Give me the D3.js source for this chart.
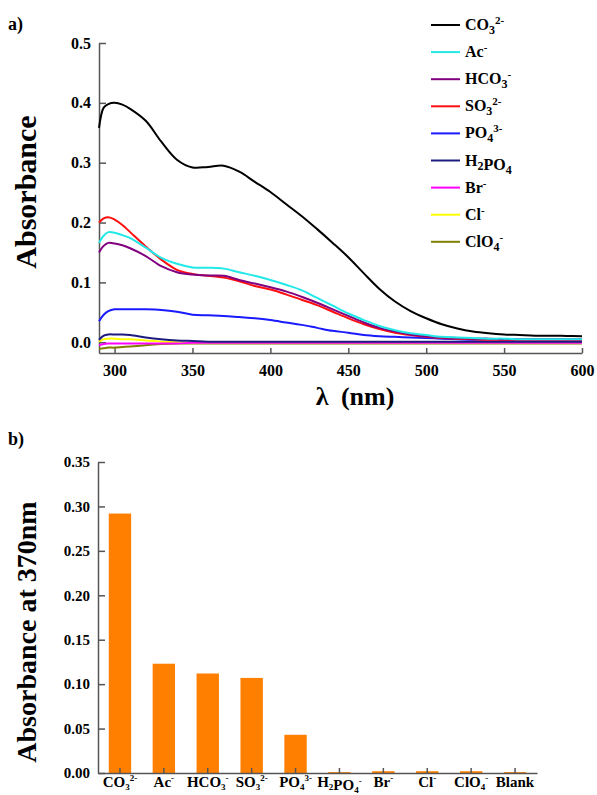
<!DOCTYPE html>
<html>
<head>
<meta charset="utf-8">
<script src="https://cdn.jsdelivr.net/npm/d3@7"></script>
<style>
  body { margin: 0; background: #fff; }
  svg text { font-family: 'Liberation Serif', 'DejaVu Serif', serif; font-weight: bold; fill: #000; }
</style>
</head>
<body>
<script>
// panel a) spectra
let wl = [290, 293, 296, 300, 305, 310, 320, 330, 340, 350, 360, 370, 380, 390, 400, 410, 420, 430, 440, 450,
  460, 470, 480, 490, 500, 510, 520, 530, 540, 550, 560, 570, 580, 590, 600]

let co3 = [0.358, 0.392, 0.398, 0.400, 0.397, 0.390, 0.370, 0.335, 0.305, 0.292, 0.293, 0.295, 0.285, 0.268, 0.251, 0.231, 0.211, 0.189, 0.166, 0.142,
  0.115, 0.089, 0.068, 0.052, 0.040, 0.030, 0.023, 0.018, 0.015, 0.013, 0.012, 0.011, 0.011, 0.0105, 0.010]
let ac = [0.166, 0.178, 0.184, 0.183, 0.179, 0.174, 0.158, 0.141, 0.131, 0.125, 0.1245, 0.123, 0.117, 0.111, 0.104, 0.096, 0.087, 0.074, 0.061, 0.048,
  0.037, 0.027, 0.020, 0.015, 0.012, 0.009, 0.008, 0.007, 0.006, 0.006, 0.005, 0.005, 0.005, 0.005, 0.005]
let hco3 = [0.150, 0.161, 0.166, 0.165, 0.162, 0.157, 0.144, 0.127, 0.117, 0.113, 0.1115, 0.111, 0.104, 0.098, 0.092, 0.085, 0.076, 0.066, 0.055, 0.044,
  0.033, 0.024, 0.018, 0.013, 0.010, 0.008, 0.007, 0.006, 0.006, 0.005, 0.005, 0.005, 0.005, 0.005, 0.005]
let so3 = [0.200, 0.207, 0.209, 0.205, 0.196, 0.184, 0.160, 0.138, 0.121, 0.114, 0.111, 0.108, 0.102, 0.094, 0.088, 0.080, 0.071, 0.062, 0.051, 0.040,
  0.030, 0.022, 0.016, 0.012, 0.009, 0.007, 0.006, 0.005, 0.004, 0.004, 0.004, 0.004, 0.004, 0.004, 0.004]
let po4 = [0.035, 0.046, 0.052, 0.055, 0.055, 0.055, 0.055, 0.054, 0.051, 0.046, 0.045, 0.044, 0.042, 0.040, 0.037, 0.033, 0.029, 0.024, 0.019, 0.016,
  0.012, 0.010, 0.009, 0.008, 0.007, 0.006, 0.005, 0.004, 0.004, 0.004, 0.004, 0.004, 0.004, 0.004, 0.004]
let h2po4 = [0.004, 0.011, 0.013, 0.013, 0.013, 0.012, 0.008, 0.005, 0.003, 0.002, 0.001, 0.001, 0.001, 0.001, 0.001, 0.001, 0.001, 0.001, 0.001, 0.001,
  0.001, 0.001, 0.001, 0.001, 0.001, 0.001, 0.001, 0.001, 0.001, 0.001, 0.001, 0.001, 0.001, 0.001, 0.001]
let br = [-0.005, -0.003, -0.002, -0.002, -0.002, -0.002, -0.002, -0.002, -0.002, -0.001, -0.001, -0.001, -0.001, -0.001, -0.001, -0.001, -0.001, -0.001, -0.001, -0.001,
  -0.001, -0.001, -0.001, -0.001, -0.001, -0.001, -0.001, -0.001, -0.001, -0.001, -0.001, -0.001, -0.001, -0.001, -0.001]
let cl = [0.001, 0.005, 0.006, 0.006, 0.005, 0.005, 0.003, 0.001, 0.000, -0.001, -0.001, -0.001, -0.001, -0.001, -0.001, -0.001, -0.001, -0.001, -0.001, -0.001,
  -0.001, -0.001, -0.001, -0.001, -0.001, -0.001, -0.001, -0.001, -0.001, -0.001, -0.001, -0.001, -0.001, -0.001, -0.001]
let clo4 = [-0.011, -0.010, -0.009, -0.009, -0.008, -0.007, -0.005, -0.003, -0.002, -0.002, -0.002, -0.002, -0.002, -0.002, -0.002, -0.002, -0.002, -0.002, -0.002, -0.002,
  -0.002, -0.002, -0.002, -0.002, -0.002, -0.002, -0.002, -0.002, -0.002, -0.002, -0.002, -0.002, -0.002, -0.002, -0.002]

// legend labels as [base, subscript, superscript, ...]
let seriesNames = [['CO', '3', '2-'], ['Ac', '', '-'], ['HCO', '3', '-'], ['SO', '3', '2-'], ['PO', '4', '3-'],
  ['H', '2', '', 'PO', '4'], ['Br', '', '-'], ['Cl', '', '-'], ['ClO', '4', '-']]
let seriesValues = [co3, ac, hco3, so3, po4, h2po4, br, cl, clo4]
let seriesColors = ['#000000', '#22e8e8', '#800080', '#ff1010', '#1a1aff', '#1c1c80', '#ff00ff', '#ffff00', '#808000']

let xTicksA = [300, 350, 400, 450, 500, 550, 600]
let yTicksA = [0.0, 0.1, 0.2, 0.3, 0.4, 0.5]

// panel b) absorbance at 370 nm
let anions = [['CO', '3', '2-'], ['Ac', '', '-'], ['HCO', '3', '-'], ['SO', '3', '2-'], ['PO', '4', '3-'],
  ['H', '2', '', 'PO', '4', '-'], ['Br', '', '-'], ['Cl', '', '-'], ['ClO', '4', '-'], ['Blank', '', '']]
let abs370 = [0.292, 0.123, 0.112, 0.107, 0.043, 0.001, 0.002, 0.002, 0.002, 0.001]
let yTicksB = [0.00, 0.05, 0.10, 0.15, 0.20, 0.25, 0.30, 0.35]

let FONT = "'Liberation Serif', 'DejaVu Serif', serif"

let svg = d3.select('body').append('svg').attr('width', 597).attr('height', 795)

// ---------- panel a ----------
let xA = d3.scaleLinear().domain([290, 600]).range([99, 582])
let yA = d3.scaleLinear().domain([-0.018, 0.5]).range([353, 43])

let axA = svg.append('g').attr('transform', 'translate(0,353)')
  .call(d3.axisBottom(xA).tickValues(xTicksA).tickSizeInner(-5).tickSizeOuter(0).tickPadding(12).tickFormat(d3.format('d')))
let ayA = svg.append('g').attr('transform', 'translate(99,0)')
  .call(d3.axisLeft(yA).tickValues(yTicksA).tickSizeInner(-7).tickSizeOuter(0).tickPadding(8).tickFormat(d3.format('.1f')))
styleAxis(axA)
styleAxis(ayA)

let line = d3.line()
  .x((d, i) => xA(wl[i]))
  .y(d => yA(d))
  .curve(d3.curveCatmullRom.alpha(0.5))

let order = d3.range(seriesValues.length).reverse()
svg.append('g').selectAll('path')
  .data(order)
  .enter()
  .append('path')
  .attr('fill', 'none')
  .attr('stroke', i => seriesColors[i])
  .attr('stroke-width', 2)
  .attr('d', i => line(seriesValues[i]))

// legend
let leg = svg.append('g')
seriesNames.forEach((parts, i) => {
  let y = 25 + i * 27.1
  leg.append('line')
    .attr('x1', 431).attr('x2', 460).attr('y1', y).attr('y2', y)
    .attr('stroke', seriesColors[i]).attr('stroke-width', 2)
  let t = leg.append('text').attr('x', 465).attr('y', y + 5)
    .style('font-family', FONT).style('font-size', '16px')
  chemLabel(t, parts, 12, 11)
})

svg.append('text').attr('x', 8).attr('y', 30).style('font-family', FONT).style('font-size', '18px').text('a)')

svg.append('text')
  .attr('transform', 'translate(36,192) rotate(-90)')
  .attr('text-anchor', 'middle')
  .style('font-family', FONT)
  .style('font-size', '30px')
  .text('Absorbance')

svg.append('text')
  .attr('x', 355).attr('y', 405)
  .attr('text-anchor', 'middle')
  .style('font-family', FONT)
  .style('font-size', '26px')
  .style('word-spacing', '6px')
  .text('λ (nm)')

// ---------- panel b ----------
let xB = d3.scaleBand().domain(d3.range(anions.length)).range([98, 537]).paddingInner(0.49).paddingOuter(0.245)
let yB = d3.scaleLinear().domain([0, 0.35]).range([773, 462])

svg.append('g').selectAll('rect')
  .data(abs370)
  .enter()
  .append('rect')
  .attr('x', (d, i) => xB(i))
  .attr('width', xB.bandwidth())
  .attr('y', d => yB(d))
  .attr('height', d => yB(0) - yB(d))
  .attr('fill', '#ff8000')

let axB = svg.append('g').attr('transform', 'translate(0,773)')
  .call(d3.axisBottom(xB).tickSizeInner(-5).tickSizeOuter(0).tickFormat(''))
let ayB = svg.append('g').attr('transform', 'translate(98,0)')
  .call(d3.axisLeft(yB).tickValues(yTicksB).tickSizeInner(-7).tickSizeOuter(0).tickPadding(8).tickFormat(d3.format('.2f')))
styleAxis(axB)
styleAxis(ayB)
ayB.selectAll('text').style('font-size', '15px')

anions.forEach((parts, i) => {
  let t = svg.append('text')
    .attr('x', xB(i) + xB.bandwidth() / 2)
    .attr('y', 787)
    .attr('text-anchor', 'middle')
    .style('font-family', FONT)
    .style('font-size', '15px')
  chemLabel(t, parts, 9, 9, 3)
})

svg.append('text').attr('x', 8).attr('y', 445).style('font-family', FONT).style('font-size', '18px').text('b)')

svg.append('text')
  .attr('transform', 'translate(36,632) rotate(-90)')
  .attr('text-anchor', 'middle')
  .style('font-family', FONT)
  .style('font-size', '28px')
  .text('Absorbance at 370nm')

function styleAxis(g) {
  g.selectAll('path, line').attr('stroke', '#555').attr('stroke-width', 1.5)
  g.selectAll('text')
    .style('font-family', FONT)
    .style('font-weight', 'bold')
    .style('font-size', '16px')
    .attr('fill', '#000')
}

// parts: base, sub, sup, [base2, sub2, sup2]
function chemLabel(t, parts, subSize, supSize, subDrop) {
  let drop = subDrop || 4
  for (let k = 0; k < parts.length; k += 3) {
    let base = parts[k], sub = parts[k + 1] || '', sup = parts[k + 2] || ''
    let shift = 0
    t.append('tspan').text(base)
    if (sub) {
      t.append('tspan').attr('dy', drop).style('font-size', subSize + 'px').text(sub)
      shift = drop
    }
    if (sup) {
      t.append('tspan').attr('dy', -shift - 6).style('font-size', supSize + 'px').text(sup)
      shift = -6
    }
    if (k + 3 < parts.length && shift !== 0) {
      // back to baseline for next part
      t.append('tspan').attr('dy', -shift).text('')
    }
  }
}
</script>
</body>
</html>
